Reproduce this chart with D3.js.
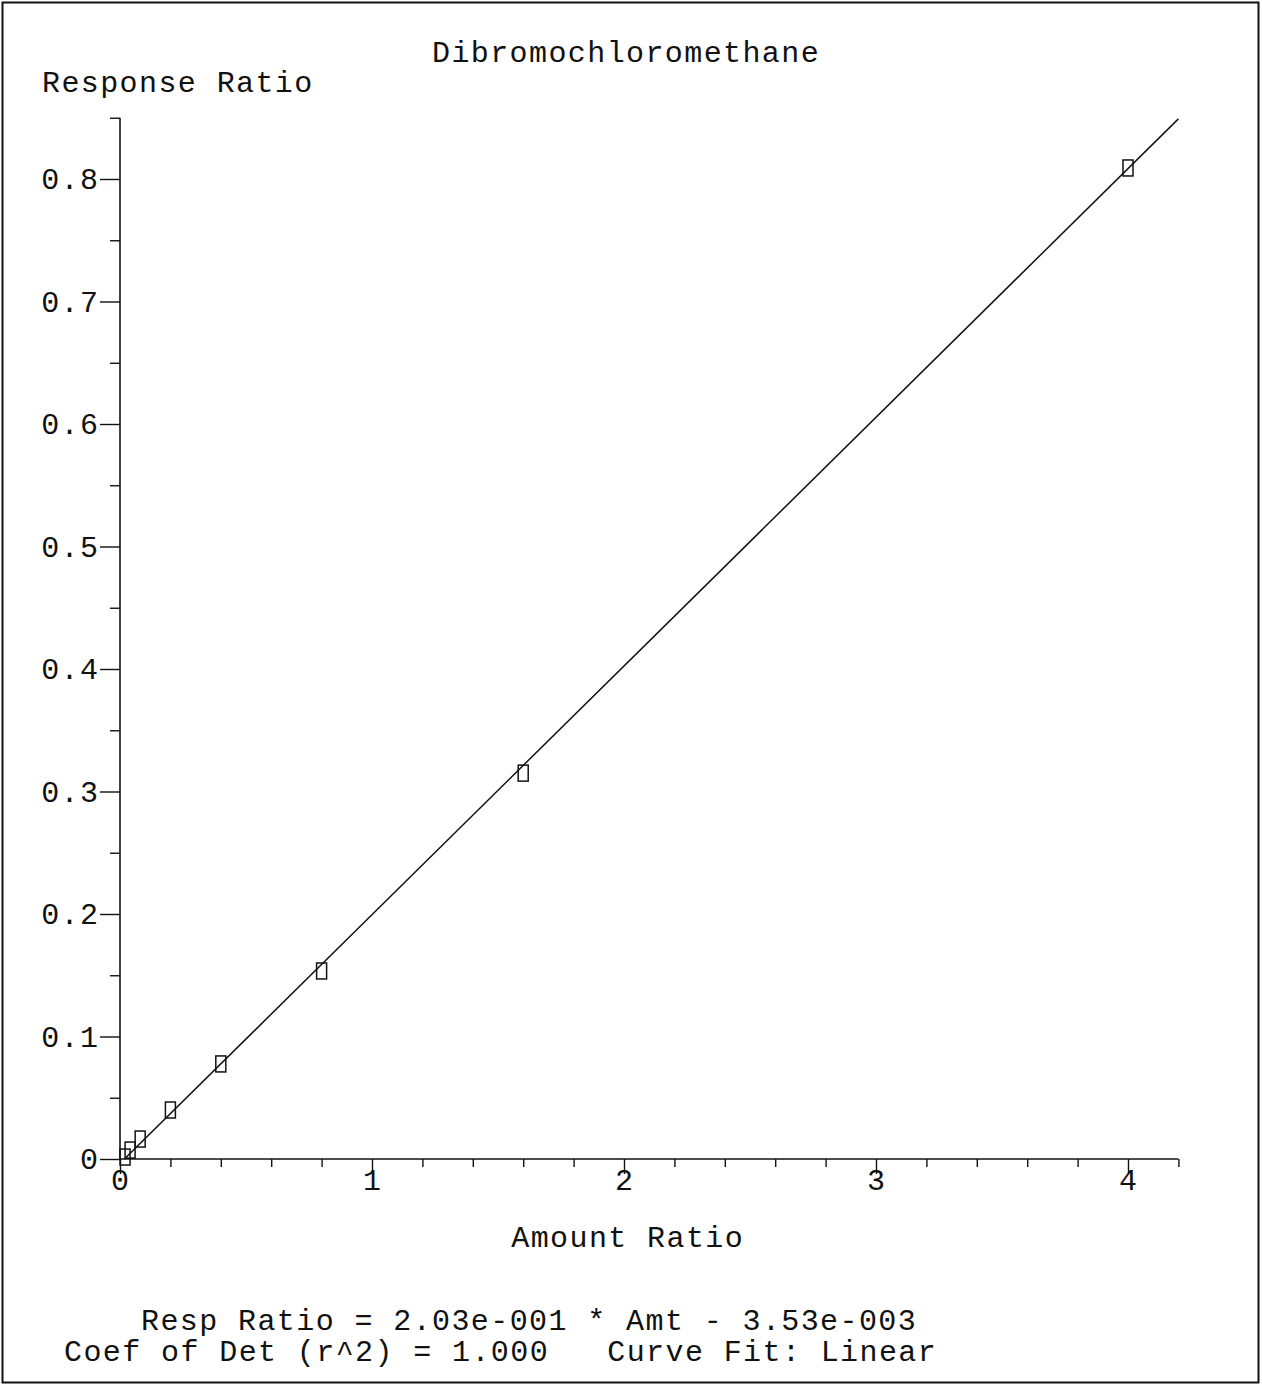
<!DOCTYPE html>
<html>
<head>
<meta charset="utf-8">
<script src="https://cdn.jsdelivr.net/npm/d3@7"></script>
<style>
  html, body { margin: 0; padding: 0; background: #fff; }
  svg text { font-family: "Liberation Mono", "DejaVu Sans Mono", monospace; fill: #111; white-space: pre; }
</style>
</head>
<body>
<svg id="chart" width="1262" height="1386"></svg>
<script>
// ---- Data ----
const titleText = "Dibromochloromethane";
const yAxisTitle = "Response Ratio";
const xAxisTitle = "Amount Ratio";
const amountRatio   = [0.02, 0.04, 0.08, 0.2, 0.4, 0.8, 1.6, 4.0];
const responseRatio = [0.0016, 0.0073, 0.0163, 0.040, 0.0776, 0.1535, 0.315, 0.809];
const fitSlope = 0.203;
const fitIntercept = -0.00353;
const xMajorTicks = [0, 1, 2, 3, 4];
const xMinorTicks = [0.2,0.4,0.6,0.8,1.2,1.4,1.6,1.8,2.2,2.4,2.6,2.8,3.2,3.4,3.6,3.8,4.2];
const yMajorTicks = [0, 0.1, 0.2, 0.3, 0.4, 0.5, 0.6, 0.7, 0.8];
const yMinorTicks = [0.05, 0.15, 0.25, 0.35, 0.45, 0.55, 0.65, 0.75, 0.85];
const yTickLabels = ["0", "0.1", "0.2", "0.3", "0.4", "0.5", "0.6", "0.7", "0.8"];
const footerLines = [
  "Resp Ratio = 2.03e-001 * Amt - 3.53e-003",
  "Coef of Det (r^2) = 1.000   Curve Fit: Linear"
];

// ---- Layout ----
const svg = d3.select("#chart");
const x = d3.scaleLinear().domain([0, 4.2]).range([120, 1178.4]);
const y = d3.scaleLinear().domain([0, 0.85]).range([1159, 117.75]);
const FS = 30, LS = 1.4;

// outer frame
svg.append("rect").attr("x", 2.5).attr("y", 2.5).attr("width", 1256).attr("height", 1380)
  .attr("fill", "none").attr("stroke", "#111").attr("stroke-width", 2);

const txt = (s, px, py, anchor) => svg.append("text")
  .attr("x", px).attr("y", py).attr("text-anchor", anchor || "start")
  .attr("xml:space", "preserve")
  .attr("font-size", FS).attr("letter-spacing", LS).text(s);

txt(titleText, 432, 62);
txt(yAxisTitle, 42, 92);

// Y axis ticks
const gy = svg.append("g").attr("transform", "translate(120,0)")
  .call(d3.axisLeft(y).tickValues(yMajorTicks).tickSize(20).tickFormat(() => ""));
gy.select(".domain").remove();
const gy2 = svg.append("g").attr("transform", "translate(120,0)")
  .call(d3.axisLeft(y).tickValues(yMinorTicks).tickSize(10).tickFormat(() => ""));
gy2.select(".domain").remove();
svg.append("line").attr("x1", 120).attr("x2", 120).attr("y1", y(0.85)).attr("y2", y(0))
  .attr("stroke", "#111").attr("stroke-width", 1.6);

yMajorTicks.forEach((v, i) => {
  txt(yTickLabels[i], 98 + LS, y(v) + 10, "end");
});

// X axis ticks
const gx = svg.append("g").attr("transform", `translate(0,${y(0)})`)
  .call(d3.axisBottom(x).tickValues(xMajorTicks).tickSize(15).tickFormat(() => ""));
gx.select(".domain").remove();
const gx2 = svg.append("g").attr("transform", `translate(0,${y(0)})`)
  .call(d3.axisBottom(x).tickValues(xMinorTicks).tickSize(8).tickFormat(() => ""));
gx2.select(".domain").remove();
svg.append("line").attr("x1", x(0)).attr("x2", x(4.2)).attr("y1", y(0)).attr("y2", y(0))
  .attr("stroke", "#111").attr("stroke-width", 1.6);
svg.selectAll("g.tick line").attr("stroke", "#111").attr("stroke-width", 1.4);

xMajorTicks.forEach(v => {
  txt(String(v), x(v) + LS / 2, 1190, "middle");
});
txt(xAxisTitle, 627 + LS / 2, 1247, "middle");

// Fit line
const x0 = -fitIntercept / fitSlope;
const fitPts = [x0, 4.2].map(v => [x(v), y(fitSlope * v + fitIntercept)]);
svg.append("path").attr("d", d3.line()(fitPts))
  .attr("fill", "none").attr("stroke", "#111").attr("stroke-width", 1.5);

// Points
svg.append("g").selectAll("rect").data(amountRatio.map((a, i) => [a, responseRatio[i]]))
  .join("rect")
  .attr("x", d => x(d[0]) - 5).attr("y", d => y(d[1]) - 8)
  .attr("width", 10).attr("height", 16)
  .attr("fill", "none").attr("stroke", "#111").attr("stroke-width", 1.5);

// Footer
txt(footerLines[0], 141, 1330);
txt(footerLines[1], 64, 1361);
</script>
</body>
</html>
